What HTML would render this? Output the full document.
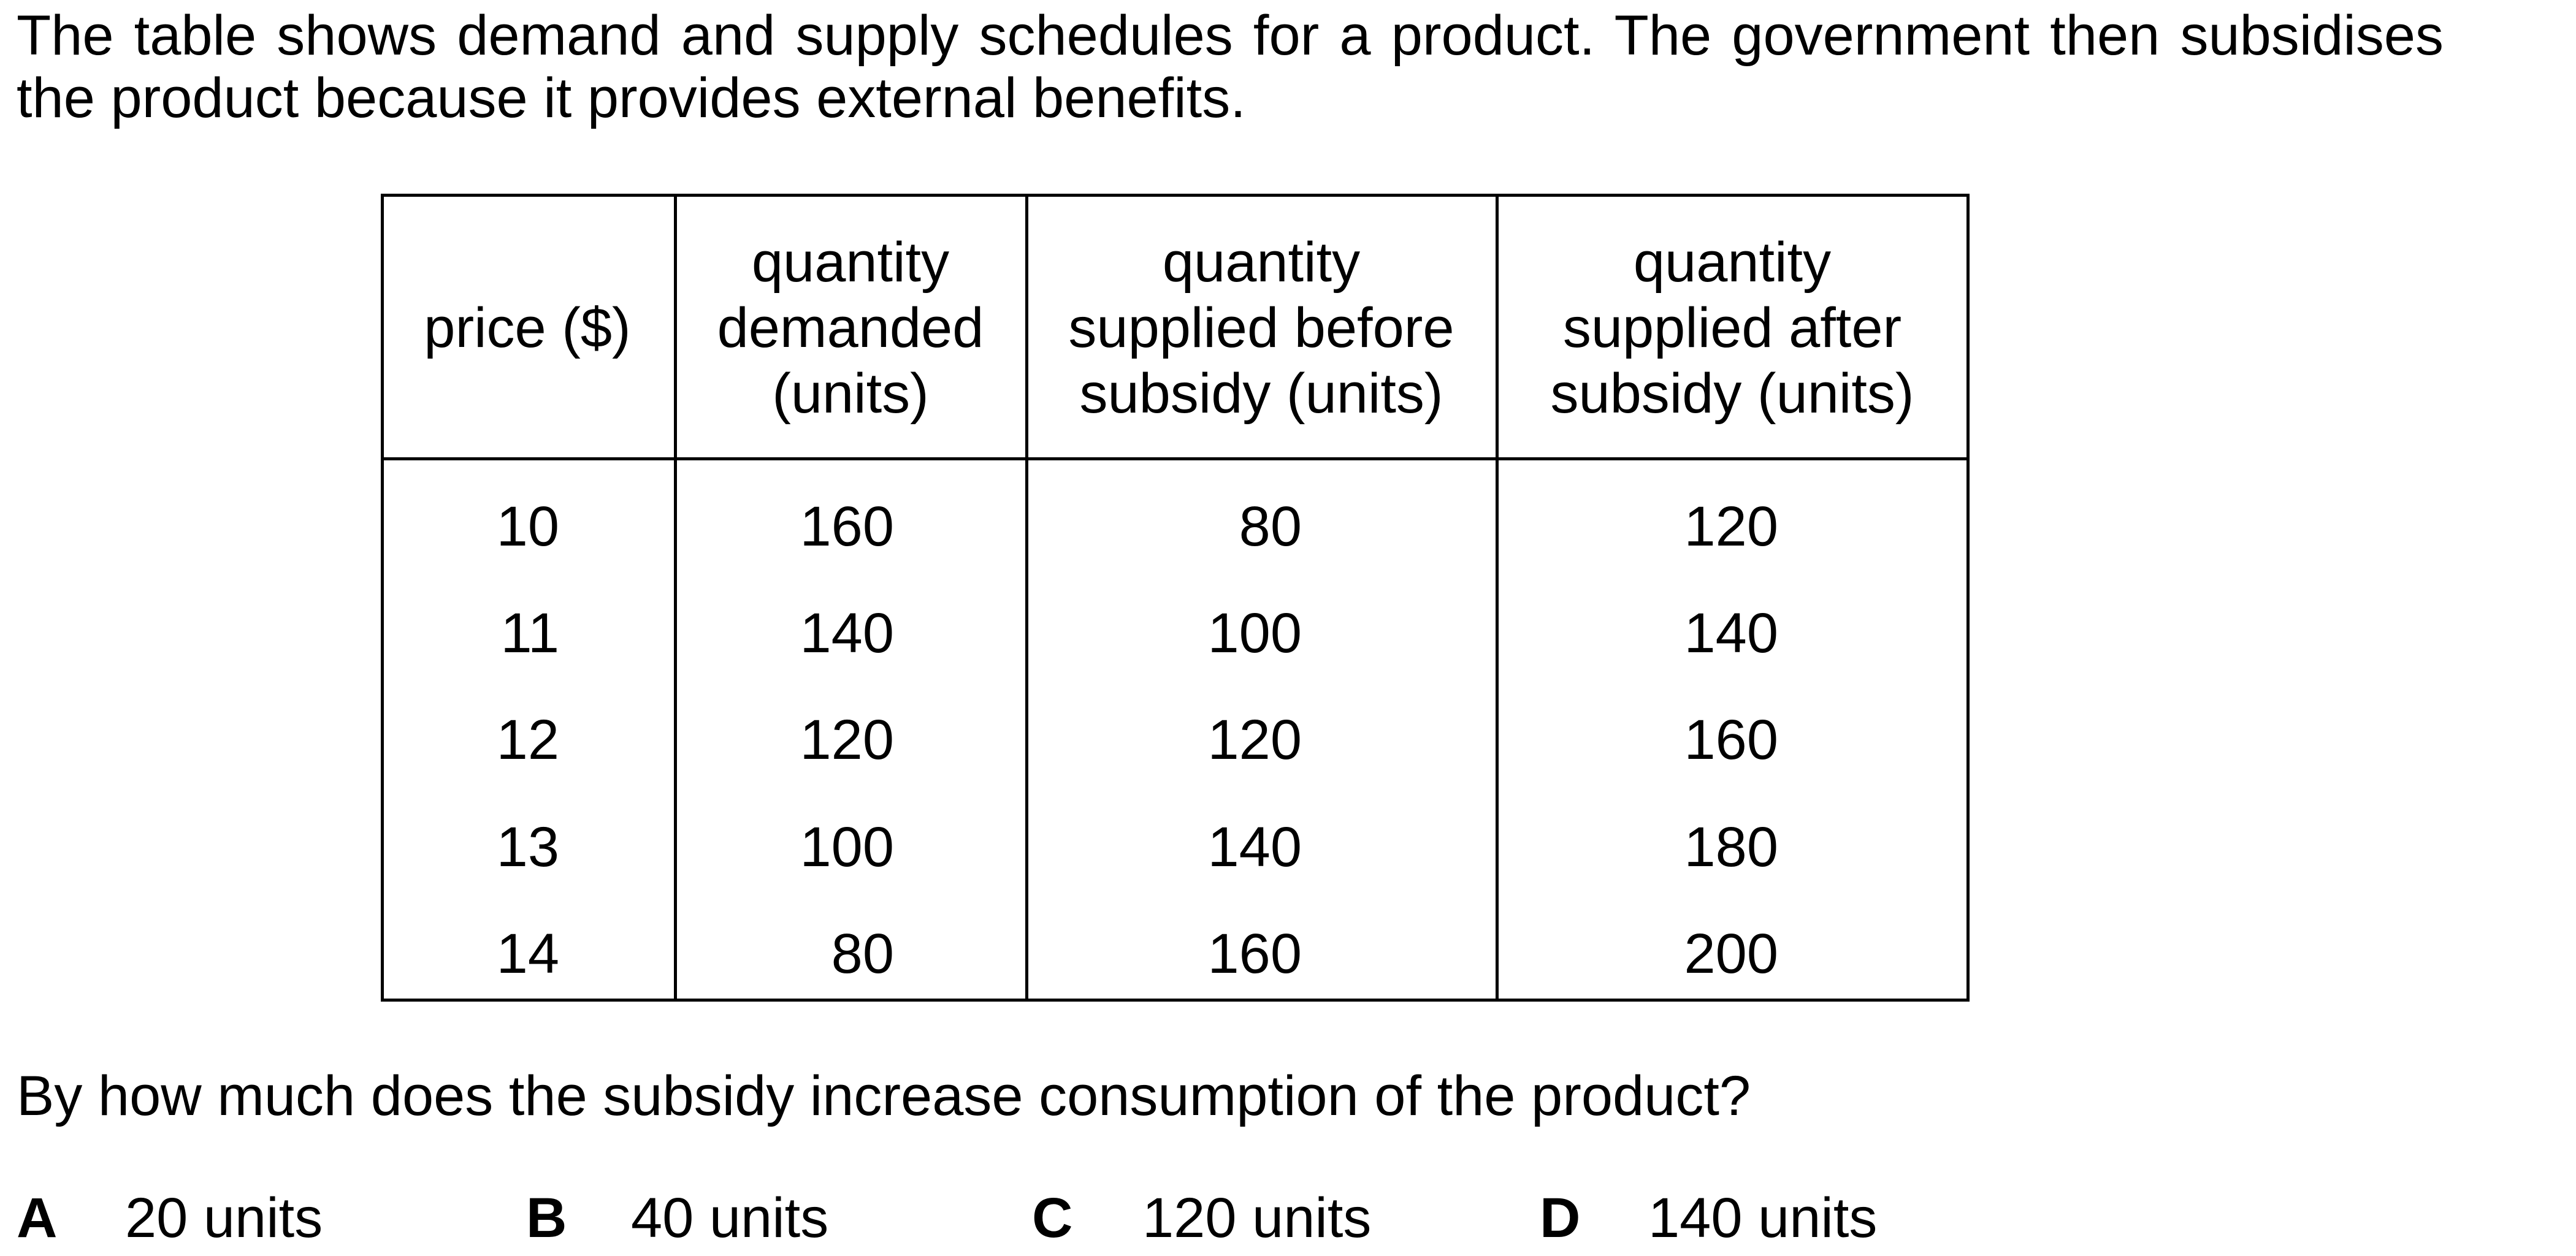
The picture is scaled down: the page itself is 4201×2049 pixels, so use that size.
<!DOCTYPE html>
<html><head><meta charset="utf-8">
<style>
html,body{margin:0;padding:0;background:#fff;}
body{width:4201px;height:2049px;position:relative;overflow:hidden;font-family:"Liberation Sans",Arial,sans-serif;color:#000;font-size:92px;}
.t{position:absolute;white-space:nowrap;line-height:1;}
.ln{position:absolute;background:#000;}
.b{font-weight:bold;}
</style></head>
<body>
<div class="t" style="left:27px;top:12px;width:3958px;text-align:justify;text-align-last:justify;">The table shows demand and supply schedules for a product. The government then subsidises</div>
<div class="t" style="left:27px;top:114px;">the product because it provides external benefits.</div>

<div id="table"></div>

<div class="t" style="left:27px;top:1742px;">By how much does the subsidy increase consumption of the product?</div>

<div class="t b" style="left:27px;top:1941px;">A</div>
<div class="t" style="left:204px;top:1941px;">20 units</div>
<div class="t b" style="left:858px;top:1941px;">B</div>
<div class="t" style="left:1029px;top:1941px;">40 units</div>
<div class="t b" style="left:1683px;top:1941px;">C</div>
<div class="t" style="left:1863px;top:1941px;">120 units</div>
<div class="t b" style="left:2511px;top:1941px;">D</div>
<div class="t" style="left:2688px;top:1941px;">140 units</div>

<script>
var prices = [10, 11, 12, 13, 14];
var demanded = [160, 140, 120, 100, 80];
var suppliedBefore = [80, 100, 120, 140, 160];
var suppliedAfter = [120, 140, 160, 180, 200];
var headers = [["price ($)"], ["quantity", "demanded", "(units)"], ["quantity", "supplied before", "subsidy (units)"], ["quantity", "supplied after", "subsidy (units)"]];

var tbl = document.getElementById('table');
var colX = [621, 1099, 1672, 2439, 3207];
var top0 = 316, headBottom = 746, bottom = 1629, lw = 5;
function line(x, y, w, h, name) {
  var d = document.createElement('div');
  d.className = 'ln';
  d.style.left = x + 'px'; d.style.top = y + 'px'; d.style.width = w + 'px'; d.style.height = h + 'px';
  
  
  tbl.appendChild(d);
}
line(colX[0], top0, colX[4] - colX[0] + lw, lw, 'table-top-border');
line(colX[0], headBottom, colX[4] - colX[0] + lw, lw, 'header-divider');
line(colX[0], bottom, colX[4] - colX[0] + lw, lw, 'table-bottom-border');
for (var i = 0; i < colX.length; i++) line(colX[i], top0, lw, bottom - top0 + lw, 'column-border');

function txt(s, cx, cy, align, name) {
  var d = document.createElement('div');
  d.className = 't';
  d.textContent = s;
  d.style.top = (cy - 47) + 'px';
  if (align === 'center') { d.style.left = (cx - 1000) + 'px'; d.style.width = '2000px'; d.style.textAlign = 'center'; }
  else { d.style.right = (4201 - cx) + 'px'; }
  
  
  tbl.appendChild(d);
}
var headerY = [[536], [429, 536, 643], [429, 536, 643], [429, 536, 643]];
var headerCx = [860, 1387, 2057, 2825];
for (var c = 0; c < headers.length; c++)
  for (var k = 0; k < headers[c].length; k++)
    txt(headers[c][k], headerCx[c], headerY[c][k], 'center', 'column-header');

var rowY = [860, 1034, 1208, 1383, 1557];
var rightEdges = [912, 1458, 2123, 2900];
var cols = [prices, demanded, suppliedBefore, suppliedAfter];
var colNames = ['price-cell', 'demanded-cell', 'supplied-before-cell', 'supplied-after-cell'];
for (var c2 = 0; c2 < cols.length; c2++)
  for (var r = 0; r < cols[c2].length; r++)
    txt(String(cols[c2][r]), rightEdges[c2], rowY[r], 'right', colNames[c2]);
</script>
</body></html>
